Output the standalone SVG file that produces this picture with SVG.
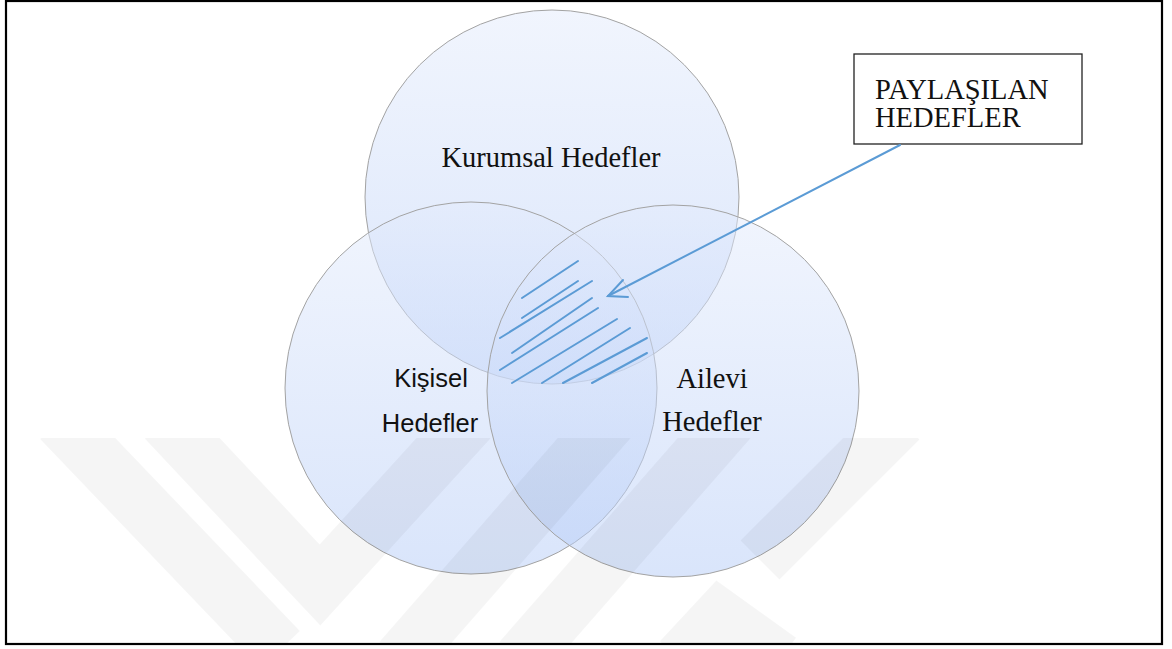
<svg xmlns="http://www.w3.org/2000/svg" width="1172" height="649" viewBox="0 0 1172 649">
<defs>
<linearGradient id="g" x1="0" y1="0" x2="0" y2="1">
<stop offset="0" stop-color="#e3ebfc"/>
<stop offset="1" stop-color="#b4cbf7"/>
</linearGradient>
<style>
.c{fill:url(#g);fill-opacity:0.5;stroke:#a3a3a3;stroke-width:1}
.h{stroke:#5b9bd5;stroke-width:2;stroke-linecap:round;fill:none}
.serif{font-family:"Liberation Serif","Times New Roman",serif;font-size:28.5px;fill:#111}
.sans{font-family:"Liberation Sans",Arial,sans-serif;font-size:25.5px;fill:#111}
.wm{fill:none;stroke:#000;stroke-opacity:0.04;stroke-width:55;stroke-linecap:butt;stroke-linejoin:miter}
</style>
<clipPath id="wmclip"><rect x="7" y="438" width="1154" height="205"/></clipPath>
</defs>
<rect width="1172" height="649" fill="#fff"/>
<g id="kurumsal">
<circle class="c" cx="552" cy="197" r="187"/>
<text class="serif" x="551" y="167" text-anchor="middle">Kurumsal Hedefler</text>
</g>
<g id="kisisel">
<circle class="c" cx="471" cy="388" r="186"/>
<text class="sans" x="431" y="387" text-anchor="middle">Kişisel</text>
<text class="sans" x="430" y="432" text-anchor="middle">Hedefler</text>
</g>
<g id="ailevi">
<circle class="c" cx="673" cy="391" r="186"/>
<text class="serif" x="712" y="388" text-anchor="middle">Ailevi</text>
<text class="serif" x="712" y="431" text-anchor="middle">Hedefler</text>
</g>
<g id="paylasilan-hatch">
<line class="h" x1="522" y1="298" x2="578" y2="261"/>
<line class="h" x1="522" y1="318" x2="578" y2="281"/>
<line class="h" x1="500" y1="338" x2="592" y2="281"/>
<line class="h" x1="512" y1="353" x2="592" y2="298"/>
<line class="h" x1="500" y1="370" x2="598" y2="308"/>
<line class="h" x1="512" y1="383" x2="617" y2="319"/>
<line class="h" x1="542" y1="383" x2="630" y2="328"/>
<line class="h" x1="563" y1="383" x2="647" y2="338"/>
<line class="h" x1="592" y1="383" x2="647" y2="353"/>
</g>
<g id="paylasilan">
<rect x="854" y="54" width="228" height="90" fill="#fff" stroke="#222" stroke-width="1.3"/>
<text class="serif" x="875" y="99" font-size="29">PAYLAŞILAN</text>
<text class="serif" x="875" y="127" font-size="29">HEDEFLER</text>
</g>
<g id="connectors">
<line class="h" x1="900" y1="145" x2="608" y2="296"/>
<polyline class="h" points="623,280 608,296 628,297"/>
</g>
<g id="watermark" clip-path="url(#wmclip)">
<polyline class="wm" points="60,420 280,650"/>
<polyline class="wm" points="165,420 320,585 470,420"/>
<polyline class="wm" points="400,660 610,420"/>
<polyline class="wm" points="520,660 730,420"/>
<polyline class="wm" points="680,660 720,617 780,660"/>
<polyline class="wm" points="760,560 900,420"/>
</g>
<rect x="6" y="1" width="1156" height="643" fill="none" stroke="#000" stroke-width="2.2"/>
</svg>
